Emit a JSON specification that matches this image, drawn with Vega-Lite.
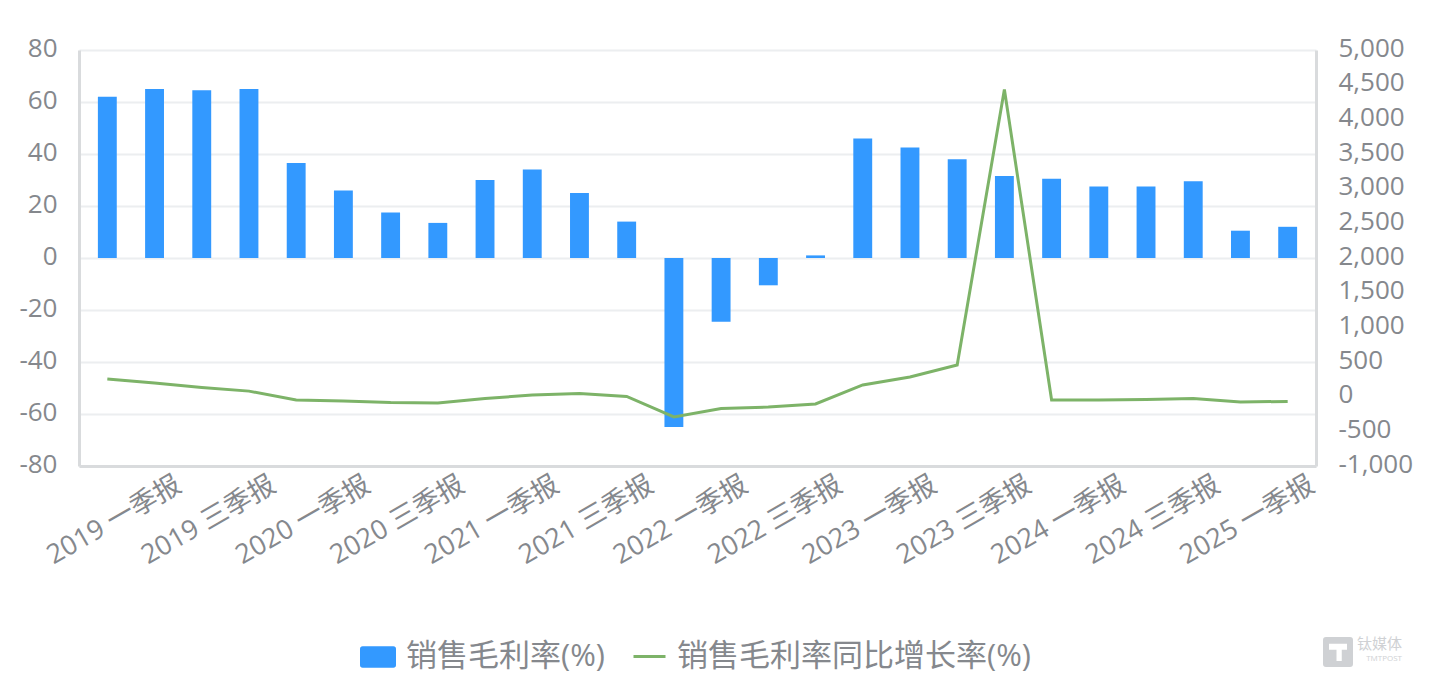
{
"$schema":"https://vega.github.io/schema/vega-lite/v6.json",
"width":1237,"height":416,
"padding":{"left":79,"top":50,"right":122,"bottom":226},
"autosize":{"type":"none"},
"background":"white",
"config":{"view":{"stroke":null},"font":"Open Sans, Noto Sans CJK SC"},
"data":{"values":[
{"q":"2019 一季报","gm":62,"yoy":255},{"q":"2019 二季报","gm":65,"yoy":197},{"q":"2019 三季报","gm":64.5,"yoy":133},{"q":"2019 四季报","gm":65,"yoy":80},
{"q":"2020 一季报","gm":36.5,"yoy":-48},{"q":"2020 二季报","gm":26,"yoy":-62},{"q":"2020 三季报","gm":17.5,"yoy":-84},{"q":"2020 四季报","gm":13.5,"yoy":-90},
{"q":"2021 一季报","gm":30,"yoy":-26},{"q":"2021 二季报","gm":34,"yoy":24},{"q":"2021 三季报","gm":25,"yoy":46},{"q":"2021 四季报","gm":14,"yoy":3},
{"q":"2022 一季报","gm":-65,"yoy":-293},{"q":"2022 二季报","gm":-24.5,"yoy":-170},{"q":"2022 三季报","gm":-10.5,"yoy":-149},{"q":"2022 四季报","gm":1,"yoy":-105},
{"q":"2023 一季报","gm":46,"yoy":169},{"q":"2023 二季报","gm":42.5,"yoy":284},{"q":"2023 三季报","gm":38,"yoy":457},{"q":"2023 四季报","gm":31.5,"yoy":4430},
{"q":"2024 一季报","gm":30.5,"yoy":-48},{"q":"2024 二季报","gm":27.5,"yoy":-48},{"q":"2024 三季报","gm":27.5,"yoy":-40},{"q":"2024 四季报","gm":29.5,"yoy":-26},
{"q":"2025 一季报","gm":10.5,"yoy":-76},{"q":"2025 二季报","gm":12,"yoy":-69}
]},
"encoding":{"x":{"field":"q","type":"ordinal","sort":null,"scale":{"paddingInner":0.6,"paddingOuter":0.4},
"axis":{"title":null,"labelAngle":-30,"labelAlign":"center","labelBaseline":"middle","labelFontSize":27,"labelColor":"#85888d","labelPadding":54,"labelOffset":7,"labelBound":false,"labelFlush":false,"ticks":false,"domainColor":"#d9dbdd","domainWidth":3,"labelOverlap":false,"values":["2019 一季报","2019 三季报","2020 一季报","2020 三季报","2021 一季报","2021 三季报","2022 一季报","2022 三季报","2023 一季报","2023 三季报","2024 一季报","2024 三季报","2025 一季报"]}}},
"layer":[
{"mark":{"type":"bar","color":"#3399ff"},
"encoding":{"y":{"field":"gm","type":"quantitative","scale":{"domain":[-80,80],"nice":false},
"axis":{"title":null,"values":[-80,-60,-40,-20,0,20,40,60,80],"labelExpr":"replace(format(datum.value,'d'),'−','-')","labelFontSize":26,"labelColor":"#85888d","labelPadding":22,"labelOffset":-2,"ticks":false,"domainColor":"#d9dbdd","domainWidth":3,"gridColor":"#eceef0","gridWidth":2}},
"fill":{"datum":"销售毛利率(%)","type":"nominal","scale":{"range":["#3399ff"]},
"legend":{"title":null,"orient":"none","legendX":281,"legendY":589,"symbolType":"M-1,-0.45Q-1,-0.6 -0.85,-0.6H0.85Q1,-0.6 1,-0.45V0.45Q1,0.6 0.85,0.6H-0.85Q-1,0.6 -1,0.45Z","symbolSize":1296,"symbolStrokeWidth":0,"labelFontSize":31,"labelColor":"#85888d","labelOffset":10,"labelLimit":500}}}},
{"mark":{"type":"line","strokeWidth":3,"color":"#7db368"},
"encoding":{"y":{"field":"yoy","type":"quantitative","scale":{"domain":[-1000,5000],"nice":false},
"axis":{"title":null,"orient":"right","values":[-1000,-500,0,500,1000,1500,2000,2500,3000,3500,4000,4500,5000],"labelExpr":"replace(format(datum.value,',d'),'−','-')","labelFontSize":26,"labelColor":"#85888d","labelPadding":22,"labelOffset":-2,"ticks":false,"domainColor":"#d9dbdd","domainWidth":3,"grid":false}},
"stroke":{"datum":"销售毛利率同比增长率(%)","type":"nominal","scale":{"range":["#7db368"]},
"legend":{"title":null,"orient":"none","legendX":553,"legendY":589,"symbolType":"stroke","symbolSize":1024,"symbolStrokeWidth":3,"labelFontSize":31,"labelColor":"#85888d","labelOffset":10,"labelLimit":500}}}},
{"mark":{"type":"point","opacity":0,"filled":true,"color":"#cfd1d4"},
"encoding":{"shape":{"datum":"钛媒体","type":"nominal","scale":{"range":["M-0.8,-1H0.8Q1,-1 1,-0.8V0.8Q1,1 0.8,1H-0.8Q-1,1 -1,0.8V-0.8Q-1,-1 -0.8,-1ZM-0.6,-0.55V-0.15H-0.1V0.6H0.25V-0.15H0.6V-0.55Z"]},
"legend":{"title":"TMTPOST","titleOrient":"bottom","titleAnchor":"end","titleFontSize":8,"titleFontWeight":"normal","titleColor":"#cfd1d4","titlePadding":-12,"orient":"none","legendX":1244,"legendY":587,"symbolSize":900,"symbolOpacity":1,"symbolFillColor":"#cfd1d4","symbolStrokeWidth":0,"labelFontSize":15,"labelColor":"#cfd1d4","labelOffset":4,"labelBaseline":"bottom"}}}}
],
"resolve":{"scale":{"y":"independent"}}
}
